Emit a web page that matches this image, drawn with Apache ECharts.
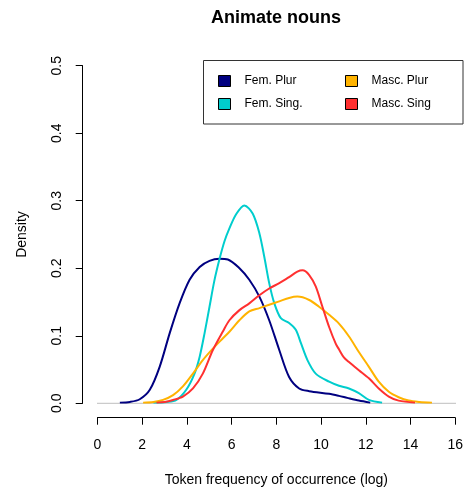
<!DOCTYPE html>
<html>
<head>
<meta charset="utf-8">
<script src="https://cdn.jsdelivr.net/npm/echarts@6/dist/echarts.min.js"></script>
<style>
html,body{margin:0;padding:0;background:#fff;}
#chart{width:466px;height:493px;}
</style>
</head>
<body>
<div id="chart"></div>
<script>
// ---- data ----
var seriesNames = ['Fem. Plur', 'Fem. Sing.', 'Masc. Plur', 'Masc. Sing'];
var xTicks = [0, 2, 4, 6, 8, 10, 12, 14, 16];
var yTicks = [0.0, 0.1, 0.2, 0.3, 0.4, 0.5];

var femPlurX = [1.0, 1.45, 1.89, 2.34, 2.78, 3.23, 3.67, 4.12, 4.57, 5.01, 5.46, 5.83, 6.35, 6.79, 7.24, 7.68, 8.13, 8.57, 9.02, 9.47, 10.36, 10.8, 11.17, 11.69, 12.2];
var femPlurY = [0.001, 0.002, 0.006, 0.020, 0.054, 0.104, 0.148, 0.183, 0.202, 0.211, 0.214, 0.213, 0.200, 0.183, 0.158, 0.123, 0.079, 0.039, 0.022, 0.018, 0.014, 0.011, 0.008, 0.004, 0.001];

var femSingX = [2.5, 3.1, 3.53, 3.97, 4.34, 4.57, 4.79, 5.01, 5.23, 5.46, 5.68, 5.9, 6.2, 6.57, 6.94, 7.24, 7.46, 7.68, 7.91, 8.2, 8.57, 8.87, 9.1, 9.39, 9.76, 10.36, 10.8, 11.25, 11.69, 12.14, 12.73];
var femSingY = [0.001, 0.002, 0.005, 0.020, 0.044, 0.069, 0.104, 0.143, 0.182, 0.214, 0.240, 0.259, 0.280, 0.293, 0.281, 0.252, 0.217, 0.178, 0.148, 0.126, 0.119, 0.109, 0.089, 0.064, 0.044, 0.032, 0.026, 0.022, 0.015, 0.005, 0.001];

var mascPlurX = [2.04, 2.5, 2.93, 3.38, 3.82, 4.27, 4.71, 5.16, 5.6, 5.9, 6.35, 6.79, 7.24, 7.68, 8.13, 8.57, 8.94, 9.47, 9.91, 10.36, 10.8, 11.25, 11.69, 12.14, 12.58, 13.03, 13.47, 13.92, 14.4, 14.96];
var mascPlurY = [0.001, 0.002, 0.005, 0.012, 0.025, 0.044, 0.064, 0.081, 0.096, 0.106, 0.123, 0.136, 0.141, 0.146, 0.151, 0.156, 0.158, 0.153, 0.143, 0.131, 0.118, 0.099, 0.076, 0.054, 0.032, 0.017, 0.009, 0.004, 0.002, 0.001];

var mascSingX = [2.64, 3.0, 3.38, 3.82, 4.27, 4.71, 5.16, 5.6, 5.9, 6.35, 6.79, 7.24, 7.68, 8.13, 8.57, 8.94, 9.17, 9.47, 9.76, 10.06, 10.36, 10.66, 10.8, 11.02, 11.25, 11.69, 12.14, 12.58, 13.03, 13.47, 14.2];
var mascSingY = [0.001, 0.002, 0.005, 0.010, 0.022, 0.044, 0.079, 0.106, 0.123, 0.138, 0.148, 0.160, 0.170, 0.178, 0.187, 0.195, 0.197, 0.190, 0.173, 0.143, 0.113, 0.088, 0.080, 0.068, 0.061, 0.049, 0.037, 0.022, 0.010, 0.004, 0.001];

// zero reference line across the plotting region
var baselineX = [-0.66, 16.64];
var baselineY = [0, 0];

var colors = ['#000080', '#00CDCD', '#FFB300', '#FF3030'];

function pairs(xs, ys) { return xs.map(function (x, i) { return [x, ys[i]]; }); }

var xsAll = [femPlurX, femSingX, mascPlurX, mascSingX];
var ysAll = [femPlurY, femSingY, mascPlurY, mascSingY];

var font = 'Liberation Sans, Arial, sans-serif';

var series = [{
  name: 'baseline', type: 'line', data: pairs(baselineX, baselineY),
  showSymbol: false, symbol: 'none', clip: false, silent: true, z: 1,
  lineStyle: { color: '#BEBEBE', width: 1 }, itemStyle: { color: '#BEBEBE' }
}];
seriesNames.forEach(function (n, i) {
  series.push({
    name: n, type: 'line', data: pairs(xsAll[i], ysAll[i]),
    symbol: 'none', smooth: 0.3, z: 3,
    lineStyle: { color: colors[i], width: 2 },
    itemStyle: { color: colors[i] }
  });
});

var legendCommon = {
  orient: 'vertical', top: 75, padding: 0, itemWidth: 12, itemHeight: 11, itemGap: 11,
  icon: 'rect', selectedMode: false,
  itemStyle: { borderColor: '#000', borderWidth: 1 },
  textStyle: { fontFamily: font, fontSize: 12, color: '#000', padding: [0, 0, 0, 9] }
};

var chart = echarts.init(document.getElementById('chart'), null, { renderer: 'canvas' });
chart.setOption({
  animation: false,
  backgroundColor: '#fff',
  title: {
    text: 'Animate nouns', left: 206, top: 4,
    textStyle: { fontFamily: font, fontSize: 18, fontWeight: 'bold', color: '#000' }
  },
  legend: [
    Object.assign({}, legendCommon, { left: 218, data: [seriesNames[0], seriesNames[1]] }),
    Object.assign({}, legendCommon, { left: 345, data: [seriesNames[2], seriesNames[3]] })
  ],
  graphic: [{
    type: 'rect', shape: { x: 203.5, y: 60.5, width: 259.5, height: 63.5 },
    style: { fill: 'none', stroke: '#333', lineWidth: 1 }, silent: true, z: 10
  }],
  grid: { left: 97.5, width: 359.2, top: 65.7, height: 337.6, containLabel: false },
  xAxis: {
    type: 'value', min: xTicks[0], max: xTicks[xTicks.length - 1], interval: 2, offset: 14.4,
    axisLine: { show: true, onZero: false, lineStyle: { color: '#000', width: 1 } },
    axisTick: { show: true, length: 7, lineStyle: { color: '#000' } },
    axisLabel: { fontFamily: font, fontSize: 14, color: '#000', margin: 20 },
    splitLine: { show: false },
    name: 'Token frequency of occurrence (log)', nameLocation: 'middle', nameGap: 55,
    nameTextStyle: { fontFamily: font, fontSize: 14, color: '#000' }
  },
  yAxis: {
    type: 'value', min: yTicks[0], max: yTicks[yTicks.length - 1], interval: 0.1, offset: 14.8,
    axisLine: { show: true, onZero: false, lineStyle: { color: '#000', width: 1 } },
    axisTick: { show: true, length: 7, lineStyle: { color: '#000' } },
    axisLabel: { fontFamily: font, fontSize: 14, color: '#000', margin: 19, rotate: 90,
      formatter: function (v) { return v.toFixed(1); } },
    splitLine: { show: false },
    name: 'Density', nameLocation: 'middle', nameGap: 54, nameRotate: 90,
    nameTextStyle: { fontFamily: font, fontSize: 14, color: '#000' }
  },
  series: series
});
</script>
</body>
</html>
